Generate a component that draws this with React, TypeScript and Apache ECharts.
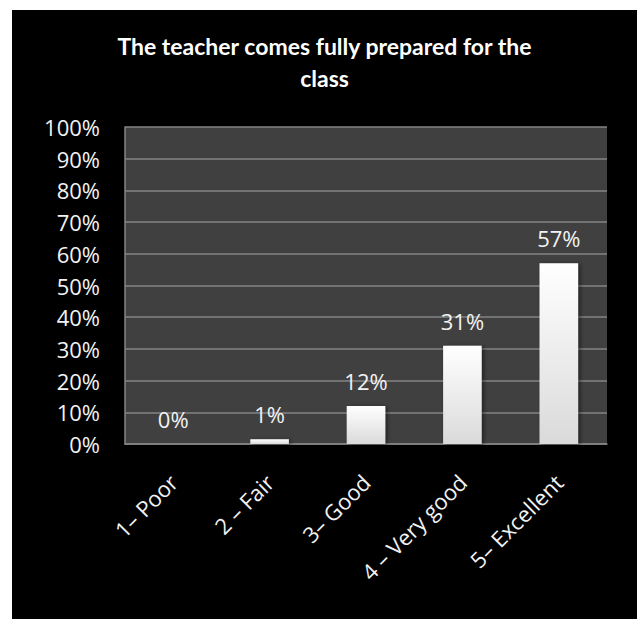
import React, { useEffect, useRef } from "react";
import * as echarts from "echarts";

const titleLines = ["The teacher comes fully prepared for the", "class"];
const categories = ["1\u2013 Poor", "2 \u2013 Fair", "3\u2013 Good", "4 \u2013 Very good", "5\u2013 Excellent"];
const values = [0, 1.5, 12, 31, 57];
const valueLabels = ["0%", "1%", "12%", "31%", "57%"];
const yTicks = [0, 10, 20, 30, 40, 50, 60, 70, 80, 90, 100];

export default function App() {
  const ref = useRef<HTMLDivElement>(null);
  useEffect(() => {
    if (!ref.current) return;
    const chart = echarts.init(ref.current, null, { renderer: "svg" });
    const font = "'Open Sans', sans-serif";
    chart.setOption({
      animation: false,
      backgroundColor: "#000000",
      title: {
        text: titleLines.join("\n"),
        left: "center",
        top: 15,
        textStyle: {
          color: "#ffffff",
          fontFamily: "Lato, sans-serif",
          fontWeight: "bold",
          fontSize: 23,
          lineHeight: 32,
        },
      },
      grid: {
        left: 113,
        top: 117,
        width: 482,
        height: 317,
        show: true,
        backgroundColor: "#404040",
        borderWidth: 0,
      },
      xAxis: {
        type: "category",
        data: categories,
        axisLine: { show: true, lineStyle: { color: "#858585", width: 1.5 } },
        axisTick: { show: false },
        axisLabel: {
          rotate: 45,
          margin: 34,
          color: "#f2f2f2",
          fontFamily: font,
          fontSize: 22,
          interval: 0,
        },
      },
      yAxis: {
        type: "value",
        min: 0,
        max: 100,
        interval: 10,
        axisLine: { show: true, lineStyle: { color: "#858585", width: 1.5 } },
        axisTick: { show: false },
        splitLine: { show: true, lineStyle: { color: "#858585", width: 1.5 } },
        axisLabel: {
          margin: 25,
          color: "#f2f2f2",
          fontFamily: font,
          fontSize: 22,
          formatter: (v: number) => (yTicks.includes(v) ? v + "%" : ""),
        },
      },
      series: [
        {
          type: "bar",
          data: values,
          barWidth: "40%",
          itemStyle: {
            color: new echarts.graphic.LinearGradient(0, 0, 0, 1, [
              { offset: 0, color: "#ffffff" },
              { offset: 1, color: "#dadada" },
            ]),
            shadowColor: "rgba(0,0,0,0.5)",
            shadowBlur: 4,
            shadowOffsetX: 2,
            shadowOffsetY: 1,
          },
          label: {
            show: true,
            position: "top",
            distance: 14,
            color: "#f2f2f2",
            fontFamily: font,
            fontSize: 22,
            formatter: (p: any) => valueLabels[p.dataIndex],
          },
        },
      ],
    });
    return () => chart.dispose();
  }, []);
  return (
    <div style={{ position: "fixed", left: 0, top: 0, width: 643, height: 619, background: "#ffffff" }}>
      <div ref={ref} style={{ position: "absolute", left: 12, top: 10, width: 625, height: 609 }} />
    </div>
  );
}
